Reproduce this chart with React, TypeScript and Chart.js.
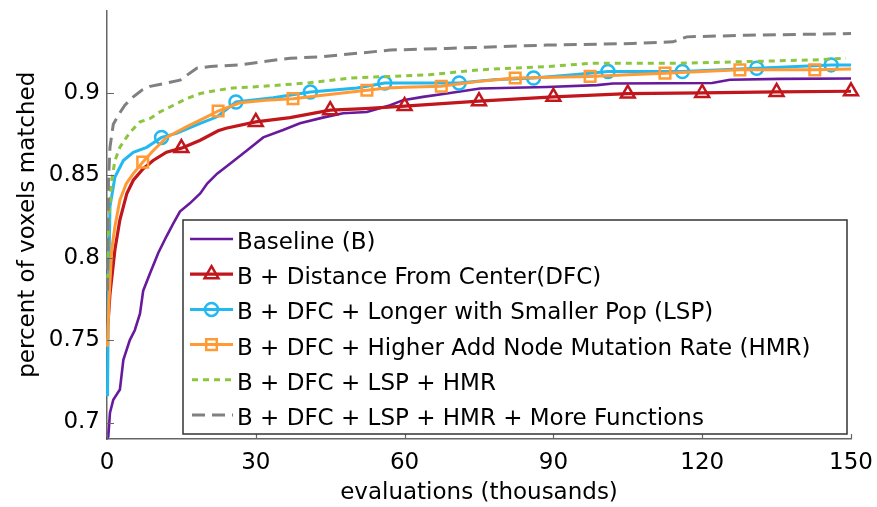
import React, { useEffect, useRef } from 'react';
import { Chart, registerables } from 'chart.js';

Chart.register(...registerables);

// ---------- data ----------
const xTickValues = [0, 30, 60, 90, 120, 150];
const yTickValues = [0.7, 0.75, 0.8, 0.85, 0.9];

const seriesLabels = [
  'Baseline (B)',
  'B + Distance From Center(DFC)',
  'B + DFC + Longer with Smaller Pop (LSP)',
  'B + DFC + Higher Add Node Mutation Rate (HMR)',
  'B + DFC + LSP + HMR',
  'B + DFC + LSP + HMR + More Functions',
];

const baselineX = [0, 0.26, 0.6, 1.27, 2.6, 3.3, 4.6, 5.6, 6.65, 7.3, 8.7, 10.35, 12.0, 13.4, 14.7, 16.7, 18.8, 20.2, 22.2, 24.8, 28.2, 31.5, 35.5, 38.9, 43.5, 47.6, 52.4, 57.1, 59.7, 63.7, 68.5, 75.2, 88.7, 98.8, 102, 122, 125.6, 135.7, 150];
const baselineY = [0.69, 0.6915, 0.706, 0.7138, 0.72, 0.738, 0.75, 0.756, 0.766, 0.78, 0.7907, 0.803, 0.813, 0.821, 0.828, 0.833, 0.839, 0.845, 0.851, 0.857, 0.865, 0.873, 0.8775, 0.8816, 0.885, 0.8877, 0.8884, 0.8925, 0.8956, 0.8976, 0.8996, 0.9027, 0.9036, 0.9047, 0.9057, 0.906, 0.908, 0.9085, 0.9087];

const dfcX = [0.2, 0.6, 1.6, 2.6, 4.0, 5.3, 7.3, 9.3, 12, 15, 18.8, 22.4, 24, 30, 36.9, 45, 52, 60, 75, 90, 105, 120, 135, 150];
const dfcY = [0.76, 0.778, 0.805, 0.823, 0.839, 0.847, 0.854, 0.859, 0.864, 0.8665, 0.8713, 0.877, 0.8786, 0.8824, 0.885, 0.8895, 0.8905, 0.892, 0.895, 0.8976, 0.8996, 0.9, 0.9006, 0.901];
const dfcMarkers = [15, 30, 45, 60, 75, 90, 105, 120, 135, 150];

const lspX = [0.1, 0.3, 0.6, 1.6, 3.3, 5.3, 8, 11, 14, 18.8, 22.2, 26, 33.5, 41, 50.4, 56, 63, 71, 78, 86, 94, 101, 108, 116, 124, 131, 139, 146, 150];
const lspY = [0.716, 0.78, 0.831, 0.849, 0.859, 0.864, 0.867, 0.873, 0.8754, 0.8815, 0.8855, 0.8945, 0.897, 0.9006, 0.903, 0.906, 0.906, 0.906, 0.908, 0.909, 0.911, 0.913, 0.913, 0.913, 0.914, 0.915, 0.916, 0.917, 0.917];
const lspMarkers = [11, 26, 41, 56, 71, 86, 101, 116, 131, 146];

const hmrX = [0.1, 0.4, 0.95, 1.6, 2.6, 3.9, 5.3, 7.2, 9.0, 12, 16, 20.1, 22.4, 26.8, 32, 37.5, 43.5, 52.4, 56.5, 60, 67.4, 75, 82.3, 90, 97.4, 105, 112.5, 120, 127.6, 135, 142.7, 150];
const hmrY = [0.746, 0.774, 0.805, 0.819, 0.835, 0.845, 0.851, 0.858, 0.864, 0.873, 0.8794, 0.8855, 0.889, 0.894, 0.8955, 0.8965, 0.8986, 0.9016, 0.903, 0.9035, 0.904, 0.907, 0.909, 0.9095, 0.91, 0.911, 0.912, 0.913, 0.914, 0.914, 0.914, 0.9145];
const hmrMarkers = [7.2, 22.4, 37.5, 52.4, 67.4, 82.3, 97.4, 112.5, 127.6, 142.7];

const lspHmrX = [0.1, 0.3, 0.94, 1.6, 2.6, 4.6, 6.65, 8.7, 10.7, 13.4, 16.1, 18.8, 22.2, 25.4, 31.5, 40.3, 49, 57, 65, 75, 88.7, 98, 115.5, 129, 142.3, 149];
const lspHmrY = [0.78, 0.82, 0.847, 0.859, 0.867, 0.876, 0.8824, 0.8845, 0.8885, 0.8925, 0.8966, 0.8996, 0.9016, 0.903, 0.904, 0.906, 0.909, 0.91, 0.911, 0.914, 0.916, 0.918, 0.918, 0.919, 0.92, 0.921];

const moreFnX = [0.1, 0.3, 0.6, 1.27, 2.6, 3.6, 5.3, 7.0, 8.7, 12, 14.7, 18.1, 20.8, 26.8, 31.5, 36.9, 43.5, 50.4, 57.1, 68.5, 88.6, 106, 114.1, 116.9, 129, 150];
const moreFnY = [0.78, 0.847, 0.867, 0.881, 0.888, 0.8926, 0.8976, 0.9016, 0.904, 0.906, 0.9077, 0.915, 0.916, 0.917, 0.919, 0.921, 0.922, 0.924, 0.926, 0.927, 0.929, 0.93, 0.931, 0.934, 0.935, 0.936];

// ---------- styling ----------
const FONT_FAMILY = '"DejaVu Sans", sans-serif';
const FONT_SIZE = 23;
const AXIS_COLOR = '#666666';

type Series = {
  xs: number[];
  ys: number[];
  color: string;
  width: number;
  dash: number[];
  marker: string | null;
  markerRadius: number;
  markers: number[];
};

const seriesList: Series[] = [
  { xs: baselineX, ys: baselineY, color: '#681a9c', width: 2.6, dash: [], marker: null, markerRadius: 0, markers: [] },
  { xs: dfcX, ys: dfcY, color: '#c0161c', width: 3.2, dash: [], marker: 'triangle', markerRadius: 8, markers: dfcMarkers },
  { xs: lspX, ys: lspY, color: '#22b8f0', width: 3, dash: [], marker: 'circle', markerRadius: 6.5, markers: lspMarkers },
  { xs: hmrX, ys: hmrY, color: '#ff9a35', width: 3, dash: [], marker: 'rect', markerRadius: 7.5, markers: hmrMarkers },
  { xs: lspHmrX, ys: lspHmrY, color: '#8cc63e', width: 3, dash: [6, 5], marker: null, markerRadius: 0, markers: [] },
  { xs: moreFnX, ys: moreFnY, color: '#808080', width: 3, dash: [13, 7], marker: null, markerRadius: 0, markers: [] },
];

function drawMarker(ctx: CanvasRenderingContext2D, style: string, x: number, y: number, r: number) {
  ctx.beginPath();
  if (style === 'circle') {
    ctx.arc(x, y, r, 0, Math.PI * 2);
  } else if (style === 'triangle') {
    ctx.moveTo(x, y - r);
    ctx.lineTo(x + r * 0.866, y + r / 2);
    ctx.lineTo(x - r * 0.866, y + r / 2);
    ctx.closePath();
  } else if (style === 'rect') {
    const s = Math.SQRT1_2 * r;
    ctx.rect(x - s, y - s, 2 * s, 2 * s);
  }
  ctx.stroke();
}

const inwardTicks = {
  id: 'inwardTicks',
  afterDatasetsDraw(chart: any) {
    const { ctx, chartArea, scales } = chart;
    ctx.save();
    ctx.strokeStyle = AXIS_COLOR;
    ctx.lineWidth = 1.2;
    ctx.beginPath();
    xTickValues.forEach((v) => {
      const px = Math.round(scales.x.getPixelForValue(v)) + 0.5;
      ctx.moveTo(px, chartArea.bottom);
      ctx.lineTo(px, chartArea.bottom - 5);
    });
    yTickValues.forEach((v) => {
      const py = Math.round(scales.y.getPixelForValue(v)) + 0.5;
      ctx.moveTo(chartArea.left, py);
      ctx.lineTo(chartArea.left + 7, py);
    });
    ctx.stroke();
    ctx.restore();
  },
};

const matlabLegend = {
  id: 'matlabLegend',
  afterDraw(chart: any) {
    const ctx: CanvasRenderingContext2D = chart.ctx;
    const left = 183, top = 220, right = 847, bottom = 434;
    ctx.save();
    ctx.fillStyle = '#ffffff';
    ctx.fillRect(left, top, right - left, bottom - top);
    ctx.strokeStyle = '#333333';
    ctx.lineWidth = 1.5;
    ctx.strokeRect(left, top, right - left, bottom - top);
    const rowStart = 239;
    const rowStep = 35.2;
    seriesList.forEach((s, i) => {
      const y = rowStart + i * rowStep;
      ctx.strokeStyle = s.color;
      ctx.lineWidth = s.width;
      ctx.setLineDash(s.dash);
      ctx.lineDashOffset = s.dash.length ? -2 : 0;
      ctx.beginPath();
      ctx.moveTo(190, y);
      ctx.lineTo(233, y);
      ctx.stroke();
      ctx.setLineDash([]);
      ctx.lineDashOffset = 0;
      if (s.marker) {
        ctx.lineWidth = 2.5;
        drawMarker(ctx, s.marker, 211.5, y, s.markerRadius);
      }
      ctx.fillStyle = '#000000';
      ctx.font = `${FONT_SIZE}px ${FONT_FAMILY}`;
      ctx.textBaseline = 'alphabetic';
      ctx.textAlign = 'left';
      ctx.fillText(seriesLabels[i], 237, y + 10);
    });
    ctx.restore();
  },
};

export default function App() {
  const canvasRef = useRef<HTMLCanvasElement | null>(null);

  useEffect(() => {
    document.body.style.margin = '0';
    const canvas = canvasRef.current;
    if (!canvas) return;
    const font = { family: FONT_FAMILY, size: FONT_SIZE };
    const datasets = seriesList.map((s, i) => ({
      label: seriesLabels[i],
      data: s.xs.map((x, j) => ({ x, y: s.ys[j] })),
      borderColor: s.color,
      backgroundColor: 'rgba(0,0,0,0)',
      borderWidth: s.width,
      borderDash: s.dash,
      tension: 0,
      fill: false,
      clip: false as any,
      order: seriesList.length - i,
      pointStyle: s.marker || 'circle',
      pointBorderColor: s.color,
      pointBackgroundColor: 'rgba(0,0,0,0)',
      pointBorderWidth: 2.5,
      pointRadius: (ctx: any) => (s.marker && ctx.raw && s.markers.includes(ctx.raw.x) ? s.markerRadius : 0),
      pointHoverRadius: 0,
    }));

    const chart = new Chart(canvas, {
      type: 'line',
      data: { datasets },
      plugins: [inwardTicks, matlabLegend],
      options: {
        animation: false,
        responsive: false,
        events: [],
        devicePixelRatio: 1,
        layout: { padding: { top: 10, right: 26, left: 0, bottom: 0 } },
        plugins: {
          legend: { display: false },
          tooltip: { enabled: false },
          title: { display: false },
        },
        scales: {
          x: {
            type: 'linear',
            min: 0,
            max: 150,
            afterBuildTicks: (scale: any) => {
              scale.ticks = xTickValues.map((v) => ({ value: v }));
            },
            afterFit: (scale: any) => {
              scale.height = 68;
              scale.paddingLeft = 0;
              scale.paddingRight = 0;
            },
            ticks: {
              font,
              color: '#000000',
              padding: 10,
              maxRotation: 0,
              autoSkip: false,
              callback: (v: any) => String(v),
            },
            grid: { display: false, drawTicks: false },
            border: { display: true, color: AXIS_COLOR, width: 1.5 },
            title: {
              display: true,
              text: 'evaluations (thousands)',
              font,
              color: '#000000',
              padding: { top: 0, bottom: 0 },
            },
          },
          y: {
            type: 'linear',
            min: 0.69,
            max: 0.95,
            afterBuildTicks: (scale: any) => {
              scale.ticks = yTickValues.map((v) => ({ value: v }));
            },
            afterFit: (scale: any) => {
              scale.width = 107;
              scale.paddingTop = 0;
              scale.paddingBottom = 0;
            },
            ticks: {
              font,
              color: '#000000',
              padding: 7,
              autoSkip: false,
              callback: (v: any) => String(v),
            },
            grid: { display: false, drawTicks: false },
            border: { display: true, color: AXIS_COLOR, width: 1.5 },
            title: {
              display: true,
              text: 'percent of voxels matched',
              font,
              color: '#000000',
              padding: { top: 14, bottom: 0 },
            },
          },
        },
      } as any,
    });
    return () => chart.destroy();
  }, []);

  return (
    <div style={{ width: 877, height: 507 }}>
      <canvas ref={canvasRef} width={877} height={507} style={{ display: 'block' }} />
    </div>
  );
}
